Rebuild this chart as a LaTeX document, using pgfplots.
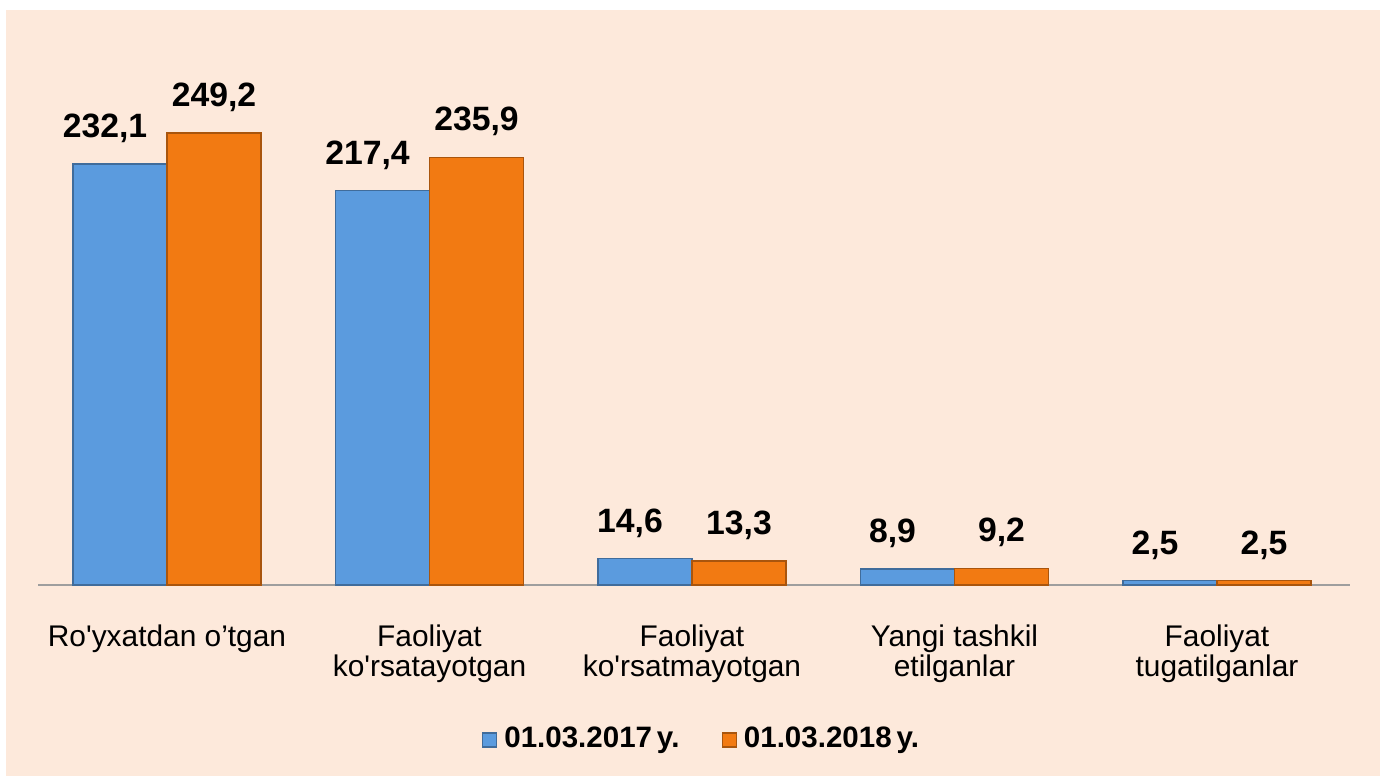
\documentclass[border=0pt]{standalone}
\usepackage{pgfplots}
\pgfplotsset{compat=1.18}
\usepackage{fontspec}
\setmainfont{Liberation Sans}
% same face without TeX mapping, so ' stays a straight apostrophe
\newfontfamily\nomap{Liberation Sans}
\definecolor{bgpeach}{HTML}{FDE9DB}
\definecolor{barblue}{HTML}{5B9BDE}
\definecolor{barorange}{HTML}{F27A12}

\begin{document}
\begin{tikzpicture}
  % picture frame: 1px = 0.01cm, axis origin at pixel (38,585)
  \fill[white] (-0.38cm,-1.91cm) rectangle (13.47cm,5.85cm);
  \fill[bgpeach] (-0.32cm,-1.91cm) rectangle (13.42cm,5.75cm);
  \begin{axis}[
    at={(0,0)}, anchor=south west,
    scale only axis,
    width=13.12cm, height=5.44cm,
    ybar=0pt, bar width=0.94cm,
    xmin=-0.4914, xmax=4.5067,
    ymin=0, ymax=300,
    axis y line=none,
    axis x line*=bottom,
    x axis line style={draw=black!38, line width=0.8pt},
    major tick length=0pt,
    xtick={0,1,2,3,4},
    xticklabels={{Ro'yxatdan o’tgan},{Faoliyat\\ko'rsatayotgan},
                 {Faoliyat\\ko'rsatmayotgan},{Yangi tashkil\\etilganlar},
                 {Faoliyat\\tugatilganlar}},
    xticklabel style={font=\nomap\fontsize{8.5}{8.8}\selectfont, align=center,
                      anchor=north, yshift=-0.27cm},
    nodes near coords,
    every node near coord/.append style={font=\fontsize{9.6}{11}\selectfont\bfseries,
      /pgf/number format/fixed, /pgf/number format/fixed zerofill,
      /pgf/number format/precision=1, /pgf/number format/use comma,
      /pgf/number format/assume math mode=true, yshift=2.5pt},
    legend style={at={(0.5,0)}, anchor=center, xshift=0.1cm, yshift=-1.55cm,
      draw=none, fill=none, legend columns=2,
      font=\fontsize{8.4}{10}\selectfont\bfseries,
      /tikz/every even column/.append style={column sep=0.35cm}},
    legend image code/.code={%
      \draw[#1] (0cm,-0.07cm) rectangle (0.14cm,0.07cm);},
  ]
    \addplot[fill=barblue, draw=barblue!70!black, line width=0.4pt,
      every node near coord/.append style={xshift=-0.15cm}]
      coordinates {(0,232.1) (1,217.4) (2,14.6) (3,8.9) (4,2.5)};
    \addplot[fill=barorange, draw=barorange!70!black, line width=0.4pt]
      coordinates {(0,249.2) (1,235.9) (2,13.3) (3,9.2) (4,2.5)};
    \legend{01.03.2017\,y.,01.03.2018\,y.}
  \end{axis}
\end{tikzpicture}
\end{document}
